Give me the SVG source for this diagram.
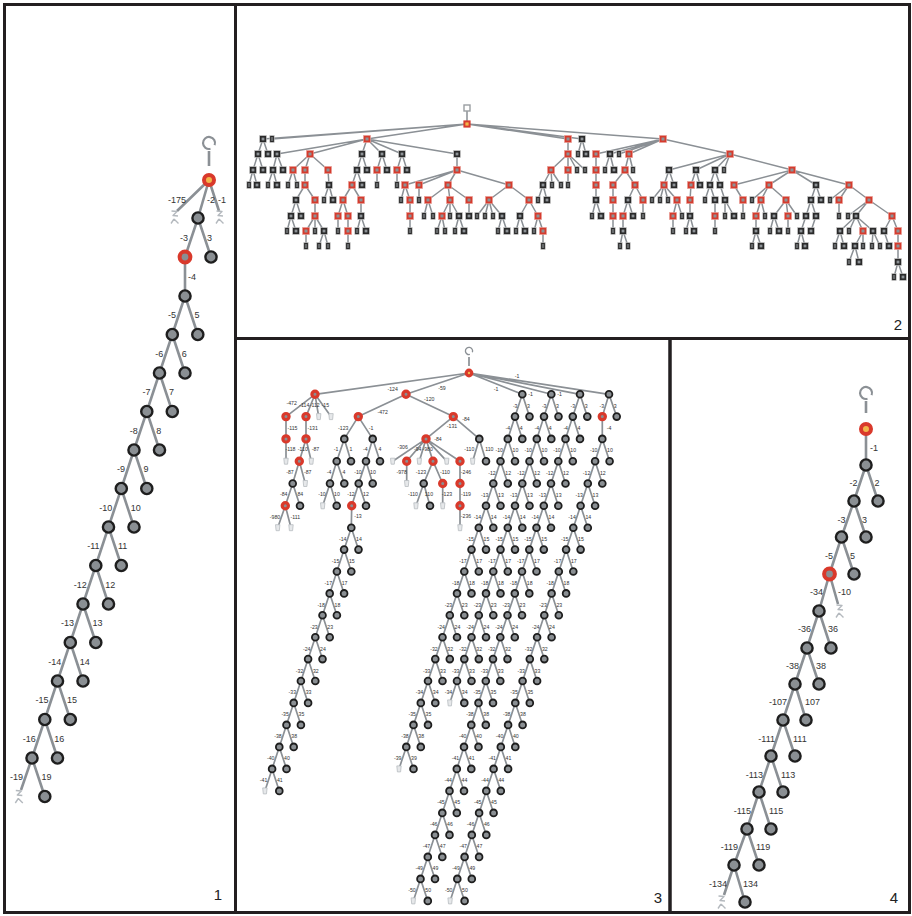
<svg xmlns="http://www.w3.org/2000/svg" width="912" height="916" viewBox="0 0 912 916">
<style>
.f{fill:none;stroke:#231f20;stroke-width:3}
.e1{fill:none;stroke:#8b9095;stroke-width:2.6}
.e2{fill:none;stroke:#8b9095;stroke-width:1.5}
.e3{fill:none;stroke:#8b9095;stroke-width:1.7}
text{font-family:"Liberation Sans",Arial,sans-serif;fill:#333}
.t1{font-size:9px}
.t3{font-size:5.2px}
.n{font-size:15px;fill:#222}
.r{text-anchor:end}
.m{text-anchor:middle}
</style>
<defs>
<circle id="cN" r="5.6" fill="#8a8f93" stroke="#1e1e1e" stroke-width="2.4"/>
<circle id="cR" r="5.4" fill="#8a8f93" stroke="#d9392b" stroke-width="4"/>
<circle id="cO" r="5" fill="#f2b64a" stroke="#d9392b" stroke-width="4"/>
<circle id="sN" r="3.4" fill="#8a8f93" stroke="#1e1e1e" stroke-width="1.8"/>
<circle id="sR" r="3.1" fill="#8a8f93" stroke="#d9392b" stroke-width="3.2"/>
<circle id="sO" r="2.8" fill="#f2b64a" stroke="#d9392b" stroke-width="3.2"/>
<path id="loop" d="M1.5,5.8 A6,6 0 1 1 5.6,2.2" fill="none" stroke="#8b9095" stroke-width="2.2"/>
<g id="ic1" fill="none" stroke="#b4b9be" stroke-width="1.4" stroke-linejoin="round"><path d="M-3.5,-6 L2,-5.5 L-2,-1.5 L3,-1 M-1,2 L3.5,6.5 M-4,6.5 L-1,2"/></g>
<path id="ic3" d="M-2.2,-3 L2.2,-3 L1.6,3 L-1.6,3 Z" fill="#e6e8ea" stroke="#b8bcc0" stroke-width="0.8"/>
<g id="qB"><rect x="-3.4" y="-3.4" width="6.8" height="6.8" fill="#2a2a2a" stroke="#c9c9c9" stroke-width="0.6"/><rect x="-1.4" y="-1.4" width="2.8" height="2.8" fill="#8d9296"/></g>
<g id="qR"><rect x="-3.6" y="-3.6" width="7.2" height="7.2" fill="#d63b2d" stroke="#eaa9a2" stroke-width="0.6"/><rect x="-1.5" y="-1.5" width="3" height="3" fill="#8d9296"/></g>
<g id="qL"><rect x="-2.2" y="-3.4" width="4.4" height="6.8" fill="#2a2a2a" stroke="#c9c9c9" stroke-width="0.6"/><rect x="-0.6" y="-2" width="1.2" height="4" fill="#8d9296"/></g>
<g id="qO"><rect x="-3.6" y="-3.6" width="7.2" height="7.2" fill="#d63b2d"/><rect x="-1.6" y="-1.6" width="3.2" height="3.2" fill="#f2b64a"/></g>
<rect id="qT" x="-3" y="-3" width="6" height="6" fill="#fff" stroke="#9a9ea2" stroke-width="1.4"/>
</defs>
<rect width="912" height="916" fill="#fff"/>
<g id="frames">
<rect class="f" x="4.5" y="4.5" width="231" height="908"/>
<rect class="f" x="235.5" y="4.5" width="674" height="334"/>
<rect class="f" x="235.5" y="338.5" width="434.5" height="574"/>
<rect class="f" x="670" y="338.5" width="239.5" height="574"/>
<text class="n m" x="218" y="900">1</text>
<text class="n m" x="898" y="330">2</text>
<text class="n m" x="658" y="903">3</text>
<text class="n m" x="894" y="903">4</text>
</g>

<!-- PANEL 1 -->
<g id="p1-connectors">
<path class="e1" d="M209,151V166 M209,180L177,211 M209,180L198,218 M209,180L219,211 M198,218L185,257 M198,218L211,257 M185,257L185,296 M185,296L172.3,334.5L159.5,373L146.8,411.5L134,450L121.3,488.5L108.5,527L95.8,565.5L83,604L70.3,642.5L57.5,681L44.8,719.5L32,758L21,790 M185,296L197.8,334.5 M172.3,334.5L185,373 M159.5,373L172.3,411.5 M146.8,411.5L159.5,450 M134,450L146.8,488.5 M121.3,488.5L134,527 M108.5,527L121.3,565.5 M95.8,565.5L108.5,604 M83,604L95.8,642.5 M70.3,642.5L83,681 M57.5,681L70.3,719.5 M44.8,719.5L57.5,758 M32,758L44.8,796.5"/>
</g>
<g id="p1-nodes">
<g id="p1-start"><use href="#loop" x="209" y="143"/></g>
<g id="p1-root"><use href="#cO" x="209" y="180"/></g>
<g id="p1-x175"><use href="#ic1" x="175" y="217"/></g>
<g id="p1-x1"><use href="#ic1" x="220" y="217"/></g>
<g id="p1-n2"><use href="#cN" x="198" y="218"/></g>
<g id="p1-n3a"><use href="#cR" x="185" y="257"/></g>
<g id="p1-n3b"><use href="#cN" x="211" y="257"/></g>
<g id="p1-n4"><use href="#cN" x="185" y="296"/></g>
<g id="p1-n5a"><use href="#cN" x="172.3" y="334.5"/></g><g id="p1-n5b"><use href="#cN" x="197.8" y="334.5"/></g>
<g id="p1-n6a"><use href="#cN" x="159.5" y="373"/></g><g id="p1-n6b"><use href="#cN" x="185" y="373"/></g>
<g id="p1-n7a"><use href="#cN" x="146.8" y="411.5"/></g><g id="p1-n7b"><use href="#cN" x="172.3" y="411.5"/></g>
<g id="p1-n8a"><use href="#cN" x="134" y="450"/></g><g id="p1-n8b"><use href="#cN" x="159.5" y="450"/></g>
<g id="p1-n9a"><use href="#cN" x="121.3" y="488.5"/></g><g id="p1-n9b"><use href="#cN" x="146.8" y="488.5"/></g>
<g id="p1-n10a"><use href="#cN" x="108.5" y="527"/></g><g id="p1-n10b"><use href="#cN" x="134" y="527"/></g>
<g id="p1-n11a"><use href="#cN" x="95.8" y="565.5"/></g><g id="p1-n11b"><use href="#cN" x="121.3" y="565.5"/></g>
<g id="p1-n12a"><use href="#cN" x="83" y="604"/></g><g id="p1-n12b"><use href="#cN" x="108.5" y="604"/></g>
<g id="p1-n13a"><use href="#cN" x="70.3" y="642.5"/></g><g id="p1-n13b"><use href="#cN" x="95.8" y="642.5"/></g>
<g id="p1-n14a"><use href="#cN" x="57.5" y="681"/></g><g id="p1-n14b"><use href="#cN" x="83" y="681"/></g>
<g id="p1-n15a"><use href="#cN" x="44.8" y="719.5"/></g><g id="p1-n15b"><use href="#cN" x="70.3" y="719.5"/></g>
<g id="p1-n16a"><use href="#cN" x="32" y="758"/></g><g id="p1-n16b"><use href="#cN" x="57.5" y="758"/></g>
<g id="p1-x19"><use href="#ic1" x="19.3" y="796.5"/></g><g id="p1-n19b"><use href="#cN" x="44.8" y="796.5"/></g>
</g>
<g id="p1-labels" class="t1">
<text class="r" x="186" y="203">-175</text><text x="207" y="203">-2</text><text x="218" y="203">-1</text>
<text class="r" x="188" y="241">-3</text><text x="207" y="241">3</text><text x="188" y="280">-4</text>
<g class="r"><text x="176" y="318">-5</text><text x="163.3" y="356.5">-6</text><text x="150.5" y="395">-7</text><text x="137.8" y="433.5">-8</text><text x="125" y="472">-9</text><text x="112.3" y="510.5">-10</text><text x="99.5" y="549">-11</text><text x="86.8" y="587.5">-12</text><text x="74" y="626">-13</text><text x="61.3" y="664.5">-14</text><text x="48.5" y="703">-15</text><text x="35.8" y="741.5">-16</text><text x="23" y="780">-19</text></g>
<text x="194.5" y="318">5</text><text x="181.8" y="356.5">6</text><text x="169" y="395">7</text><text x="156.3" y="433.5">8</text><text x="143.5" y="472">9</text><text x="130.8" y="510.5">10</text><text x="118" y="549">11</text><text x="105.3" y="587.5">12</text><text x="92.5" y="626">13</text><text x="79.8" y="664.5">14</text><text x="67" y="703">15</text><text x="54.3" y="741.5">16</text><text x="41.5" y="780">19</text>
</g>

<!-- PANEL 4 -->
<g id="p4-connectors">
<path class="e1" d="M866,401V413 M866,429V465 M866,465L854,501 M866,465L878,501 M854,501L841.5,537 M854,501L866,537 M841.5,537L829.5,574 M841.5,537L854,574 M829.5,574L819,611 M829.5,574L838,604 M819,611L807,648L795,684L783,720L771,756L759,792L747,829L734,865L724,895 M819,611L831,648 M807,648L819,684 M795,684L806,720 M783,720L795,756 M771,756L783,792 M759,792L771,829 M747,829L759,865 M734,865L745,902"/>
</g>
<g id="p4-nodes">
<g id="p4-start"><use href="#loop" x="866" y="393"/></g>
<g id="p4-root"><use href="#cO" x="866" y="429"/></g>
<g id="p4-n1"><use href="#cN" x="866" y="465"/></g>
<g id="p4-n2a"><use href="#cN" x="854" y="501"/></g><g id="p4-n2b"><use href="#cN" x="878" y="501"/></g>
<g id="p4-n3a"><use href="#cN" x="841.5" y="537"/></g><g id="p4-n3b"><use href="#cN" x="866" y="537"/></g>
<g id="p4-n5a"><use href="#cR" x="829.5" y="574"/></g><g id="p4-n5b"><use href="#cN" x="854" y="574"/></g>
<g id="p4-n34"><use href="#cN" x="819" y="611"/></g><g id="p4-x10"><use href="#ic1" x="840" y="611"/></g>
<g id="p4-n36a"><use href="#cN" x="807" y="648"/></g><g id="p4-n36b"><use href="#cN" x="831" y="648"/></g>
<g id="p4-n38a"><use href="#cN" x="795" y="684"/></g><g id="p4-n38b"><use href="#cN" x="819" y="684"/></g>
<g id="p4-n107a"><use href="#cN" x="783" y="720"/></g><g id="p4-n107b"><use href="#cN" x="806" y="720"/></g>
<g id="p4-n111a"><use href="#cN" x="771" y="756"/></g><g id="p4-n111b"><use href="#cN" x="795" y="756"/></g>
<g id="p4-n113a"><use href="#cN" x="759" y="792"/></g><g id="p4-n113b"><use href="#cN" x="783" y="792"/></g>
<g id="p4-n115a"><use href="#cN" x="747" y="829"/></g><g id="p4-n115b"><use href="#cN" x="771" y="829"/></g>
<g id="p4-n119a"><use href="#cN" x="734" y="865"/></g><g id="p4-n119b"><use href="#cN" x="759" y="865"/></g>
<g id="p4-x134"><use href="#ic1" x="722" y="902"/></g><g id="p4-n134b"><use href="#cN" x="745" y="902"/></g>
</g>
<g id="p4-labels" class="t1">
<text x="870" y="451">-1</text>
<g class="r"><text x="857.5" y="486">-2</text><text x="845.5" y="523">-3</text><text x="833" y="559">-5</text><text x="823" y="595">-34</text><text x="811" y="632">-36</text><text x="799" y="669">-38</text><text x="787" y="705">-107</text><text x="775" y="742">-111</text><text x="763" y="778">-113</text><text x="751" y="814">-115</text><text x="738" y="850">-119</text><text x="727" y="887">-134</text></g>
<text x="874.5" y="486">2</text><text x="862" y="523">3</text><text x="850" y="559">5</text><text x="838" y="595">-10</text><text x="828" y="632">36</text><text x="816" y="669">38</text><text x="805" y="705">107</text><text x="793" y="742">111</text><text x="781" y="778">113</text><text x="769" y="814">115</text><text x="756" y="850">119</text><text x="743" y="887">134</text>
</g>

<!-- PANEL 2 -->
<g id="p2-connectors">
<path class="e2" d="M467,111V124 M467,124L263,139 M467,124L272,139 M467,124L367,139 M467,124L568,139 M467,124L582,139 M467,124L663,139 M263,139L258,154 M263,139L268,154 M367,139L277,154 M367,139L310,154 M367,139L362,154 M367,139L382,154 M367,139L402,154 M367,139L457,154 M568,139L568,154 M582,139L578,154 M582,139L586,154 M663,139L596,154 M663,139L610,154 M663,139L619,154 M663,139L629,154 M663,139L730,154 M258,154L253,170 M258,154L263,170 M277,154L273,170 M277,154L283,170 M310,154L293,170 M310,154L305,170 M310,154L328,170 M362,154L357,170 M362,154L367,170 M382,154L377,170 M382,154L387,170 M402,154L397,170 M402,154L407,170 M457,154L457,170 M568,154L551,170 M568,154L568,170 M568,154L577,170 M568,154L585,170 M596,154L596,170 M610,154L605,170 M610,154L614,170 M629,154L625,170 M629,154L633,170 M730,154L669,170 M730,154L696,170 M730,154L715,170 M730,154L724,170 M730,154L792,170 M253,170L249,185 M253,170L257,185 M273,170L268,185 M273,170L277,185 M293,170L288,185 M293,170L297,185 M305,170L305,185 M328,170L329,185 M357,170L352,185 M357,170L362,185 M377,170L377,185 M397,170L397,185 M457,170L405,185 M457,170L419,185 M457,170L448,185 M457,170L509,185 M551,170L543,185 M551,170L552,185 M551,170L561,185 M568,170L568,185 M596,170L596,185 M625,170L613,185 M625,170L635,185 M669,170L664,185 M669,170L674,185 M696,170L691,185 M696,170L700,185 M715,170L710,185 M715,170L720,185 M792,170L734,185 M792,170L769,185 M792,170L816,185 M792,170L849,185 M305,185L296,200 M305,185L315,200 M329,185L324,200 M329,185L333,200 M352,185L343,200 M352,185L361,200 M405,185L401,200 M405,185L410,200 M419,185L419,200 M448,185L428,200 M448,185L450,200 M448,185L469,200 M509,185L489,200 M509,185L529,200 M543,185L538,200 M543,185L547,200 M596,185L596,200 M613,185L613,200 M635,185L628,200 M635,185L643,200 M664,185L652,200 M664,185L660,200 M664,185L668,200 M664,185L677,200 M691,185L690,200 M710,185L705,200 M710,185L715,200 M720,185L725,200 M734,185L743,200 M769,185L752,200 M769,185L761,200 M769,185L786,200 M816,185L811,200 M816,185L821,200 M849,185L830,200 M849,185L839,200 M849,185L869,200 M296,200L291,216 M296,200L301,216 M315,200L315,216 M343,200L338,216 M343,200L348,216 M361,200L361,216 M410,200L410,216 M428,200L424,216 M428,200L433,216 M450,200L442,216 M450,200L450,216 M450,200L459,216 M469,200L469,216 M489,200L477,216 M489,200L485,216 M489,200L493,216 M489,200L502,216 M529,200L520,216 M529,200L538,216 M596,200L592,216 M596,200L601,216 M613,200L613,216 M628,200L623,216 M628,200L633,216 M643,200L643,216 M677,200L673,216 M677,200L682,216 M690,200L690,216 M715,200L715,216 M725,200L725,216 M725,200L734,216 M743,200L743,216 M761,200L756,216 M761,200L765,216 M786,200L774,216 M786,200L788,216 M786,200L797,216 M811,200L806,216 M811,200L816,216 M839,200L839,216 M869,200L848,216 M869,200L856,216 M869,200L892,216 M291,216L287,231 M291,216L296,231 M315,216L306,231 M315,216L315,231 M315,216L324,231 M338,216L338,231 M348,216L348,231 M361,216L357,231 M361,216L366,231 M410,216L410,231 M442,216L437,231 M442,216L445,231 M459,216L455,231 M459,216L464,231 M502,216L498,231 M502,216L507,231 M520,216L516,231 M520,216L525,231 M538,216L534,231 M538,216L543,231 M613,216L613,231 M623,216L623,231 M673,216L673,231 M690,216L686,231 M690,216L694,231 M715,216L715,231 M756,216L756,231 M774,216L770,231 M774,216L779,231 M788,216L788,231 M806,216L801,231 M816,216L811,231 M856,216L840,231 M856,216L849,231 M856,216L863,231 M856,216L873,231 M892,216L884,231 M892,216L898,231 M306,231L306,246 M324,231L319,246 M324,231L328,246 M348,231L348,246 M543,231L543,246 M623,231L620,246 M623,231L628,246 M756,231L752,246 M756,231L761,246 M801,231L797,246 M801,231L805,246 M840,231L835,246 M840,231L844,246 M863,231L855,246 M863,231L863,246 M873,231L872,246 M873,231L880,246 M884,231L889,246 M898,231L898,246 M855,246L849,262 M855,246L859,262 M898,246L898,262 M898,262L894,277 M898,262L903,277"/>
</g>
<g id="p2-nodes">
<use id="p2-top" href="#qT" x="467" y="108"/>
<use id="p2-root" href="#qO" x="467" y="124"/>
<use id="p2-a1" href="#qB" x="263" y="139"/><use id="p2-a2" href="#qL" x="272" y="139"/><use id="p2-a3" href="#qR" x="367" y="139"/><use id="p2-a4" href="#qR" x="568" y="139"/><use id="p2-a5" href="#qB" x="582" y="139"/><use id="p2-a6" href="#qR" x="663" y="139"/>
<use id="p2-b1" href="#qB" x="258" y="154"/><use id="p2-b2" href="#qB" x="268" y="154"/><use id="p2-b3" href="#qB" x="277" y="154"/><use id="p2-b4" href="#qR" x="310" y="154"/><use id="p2-b5" href="#qB" x="362" y="154"/><use id="p2-b6" href="#qB" x="382" y="154"/><use id="p2-b7" href="#qB" x="402" y="154"/><use id="p2-b8" href="#qB" x="457" y="154"/><use id="p2-b9" href="#qR" x="568" y="154"/><use id="p2-b10" href="#qL" x="578" y="154"/><use id="p2-b11" href="#qB" x="586" y="154"/><use id="p2-b12" href="#qR" x="596" y="154"/><use id="p2-b13" href="#qB" x="610" y="154"/><use id="p2-b14" href="#qL" x="619" y="154"/><use id="p2-b15" href="#qR" x="629" y="154"/><use id="p2-b16" href="#qR" x="730" y="154"/>
<use id="p2-c1" href="#qB" x="253" y="170"/><use id="p2-c2" href="#qB" x="263" y="170"/><use id="p2-c3" href="#qB" x="273" y="170"/><use id="p2-c4" href="#qB" x="283" y="170"/><use id="p2-c5" href="#qR" x="293" y="170"/><use id="p2-c6" href="#qR" x="305" y="170"/><use id="p2-c7" href="#qR" x="328" y="170"/><use id="p2-c8" href="#qB" x="357" y="170"/><use id="p2-c9" href="#qB" x="367" y="170"/><use id="p2-c10" href="#qR" x="377" y="170"/><use id="p2-c11" href="#qB" x="387" y="170"/><use id="p2-c12" href="#qR" x="397" y="170"/><use id="p2-c13" href="#qB" x="407" y="170"/><use id="p2-c14" href="#qR" x="457" y="170"/><use id="p2-c15" href="#qR" x="551" y="170"/><use id="p2-c16" href="#qR" x="568" y="170"/><use id="p2-c17" href="#qL" x="577" y="170"/><use id="p2-c18" href="#qL" x="585" y="170"/><use id="p2-c19" href="#qR" x="596" y="170"/><use id="p2-c20" href="#qL" x="605" y="170"/><use id="p2-c21" href="#qB" x="614" y="170"/><use id="p2-c22" href="#qR" x="625" y="170"/><use id="p2-c23" href="#qL" x="633" y="170"/><use id="p2-c24" href="#qB" x="669" y="170"/><use id="p2-c25" href="#qB" x="696" y="170"/><use id="p2-c26" href="#qB" x="715" y="170"/><use id="p2-c27" href="#qL" x="724" y="170"/><use id="p2-c28" href="#qR" x="792" y="170"/>
<use id="p2-d1" href="#qL" x="249" y="185"/><use id="p2-d2" href="#qB" x="257" y="185"/><use id="p2-d3" href="#qL" x="268" y="185"/><use id="p2-d4" href="#qB" x="277" y="185"/><use id="p2-d5" href="#qL" x="288" y="185"/><use id="p2-d6" href="#qL" x="297" y="185"/><use id="p2-d7" href="#qR" x="305" y="185"/><use id="p2-d8" href="#qB" x="329" y="185"/><use id="p2-d9" href="#qR" x="352" y="185"/><use id="p2-d10" href="#qB" x="362" y="185"/><use id="p2-d11" href="#qL" x="377" y="185"/><use id="p2-d12" href="#qL" x="397" y="185"/><use id="p2-d13" href="#qR" x="405" y="185"/><use id="p2-d14" href="#qR" x="419" y="185"/><use id="p2-d15" href="#qR" x="448" y="185"/><use id="p2-d16" href="#qR" x="509" y="185"/><use id="p2-d17" href="#qB" x="543" y="185"/><use id="p2-d18" href="#qL" x="552" y="185"/><use id="p2-d19" href="#qL" x="561" y="185"/><use id="p2-d20" href="#qL" x="568" y="185"/><use id="p2-d21" href="#qR" x="596" y="185"/><use id="p2-d22" href="#qR" x="613" y="185"/><use id="p2-d23" href="#qR" x="635" y="185"/><use id="p2-d24" href="#qR" x="664" y="185"/><use id="p2-d25" href="#qB" x="674" y="185"/><use id="p2-d26" href="#qR" x="691" y="185"/><use id="p2-d26b" href="#qB" x="700" y="185"/><use id="p2-d27" href="#qB" x="710" y="185"/><use id="p2-d28" href="#qB" x="720" y="185"/><use id="p2-d29" href="#qR" x="734" y="185"/><use id="p2-d30" href="#qR" x="769" y="185"/><use id="p2-d31" href="#qB" x="816" y="185"/><use id="p2-d32" href="#qR" x="849" y="185"/>
<use id="p2-e1" href="#qB" x="296" y="200"/><use id="p2-e2" href="#qR" x="315" y="200"/><use id="p2-e3" href="#qL" x="324" y="200"/><use id="p2-e4" href="#qB" x="333" y="200"/><use id="p2-e5" href="#qR" x="343" y="200"/><use id="p2-e6" href="#qR" x="361" y="200"/><use id="p2-e7" href="#qL" x="401" y="200"/><use id="p2-e8" href="#qR" x="410" y="200"/><use id="p2-e9" href="#qL" x="419" y="200"/><use id="p2-e10" href="#qR" x="428" y="200"/><use id="p2-e11" href="#qR" x="450" y="200"/><use id="p2-e12" href="#qR" x="469" y="200"/><use id="p2-e13" href="#qR" x="489" y="200"/><use id="p2-e14" href="#qR" x="529" y="200"/><use id="p2-e15" href="#qL" x="538" y="200"/><use id="p2-e16" href="#qB" x="547" y="200"/><use id="p2-e17" href="#qB" x="596" y="200"/><use id="p2-e18" href="#qR" x="613" y="200"/><use id="p2-e19" href="#qB" x="628" y="200"/><use id="p2-e20" href="#qR" x="643" y="200"/><use id="p2-e21" href="#qL" x="652" y="200"/><use id="p2-e22" href="#qL" x="660" y="200"/><use id="p2-e23" href="#qL" x="668" y="200"/><use id="p2-e24" href="#qR" x="677" y="200"/><use id="p2-e25" href="#qR" x="690" y="200"/><use id="p2-e26" href="#qL" x="705" y="200"/><use id="p2-e27" href="#qB" x="715" y="200"/><use id="p2-e28" href="#qB" x="725" y="200"/><use id="p2-e29" href="#qR" x="743" y="200"/><use id="p2-e30" href="#qL" x="752" y="200"/><use id="p2-e31" href="#qR" x="761" y="200"/><use id="p2-e32" href="#qR" x="786" y="200"/><use id="p2-e33" href="#qB" x="811" y="200"/><use id="p2-e34" href="#qB" x="821" y="200"/><use id="p2-e35" href="#qL" x="830" y="200"/><use id="p2-e36" href="#qR" x="839" y="200"/><use id="p2-e37" href="#qR" x="869" y="200"/>
<use id="p2-f1" href="#qB" x="291" y="216"/><use id="p2-f2" href="#qB" x="301" y="216"/><use id="p2-f3" href="#qR" x="315" y="216"/><use id="p2-f4" href="#qR" x="338" y="216"/><use id="p2-f5" href="#qR" x="348" y="216"/><use id="p2-f6" href="#qB" x="361" y="216"/><use id="p2-f7" href="#qR" x="410" y="216"/><use id="p2-f8" href="#qL" x="424" y="216"/><use id="p2-f9" href="#qL" x="433" y="216"/><use id="p2-f10" href="#qR" x="442" y="216"/><use id="p2-f11" href="#qL" x="450" y="216"/><use id="p2-f12" href="#qB" x="459" y="216"/><use id="p2-f13" href="#qB" x="469" y="216"/><use id="p2-f14" href="#qL" x="477" y="216"/><use id="p2-f15" href="#qL" x="485" y="216"/><use id="p2-f16" href="#qL" x="493" y="216"/><use id="p2-f17" href="#qB" x="502" y="216"/><use id="p2-f18" href="#qB" x="520" y="216"/><use id="p2-f19" href="#qR" x="538" y="216"/><use id="p2-f20" href="#qL" x="592" y="216"/><use id="p2-f21" href="#qB" x="601" y="216"/><use id="p2-f22" href="#qR" x="613" y="216"/><use id="p2-f23" href="#qR" x="623" y="216"/><use id="p2-f24" href="#qB" x="633" y="216"/><use id="p2-f25" href="#qL" x="643" y="216"/><use id="p2-f26" href="#qR" x="673" y="216"/><use id="p2-f27" href="#qL" x="682" y="216"/><use id="p2-f28" href="#qB" x="690" y="216"/><use id="p2-f29" href="#qR" x="715" y="216"/><use id="p2-f30" href="#qL" x="725" y="216"/><use id="p2-f31" href="#qB" x="734" y="216"/><use id="p2-f32" href="#qL" x="743" y="216"/><use id="p2-f33" href="#qR" x="756" y="216"/><use id="p2-f34" href="#qL" x="765" y="216"/><use id="p2-f35" href="#qB" x="774" y="216"/><use id="p2-f36" href="#qR" x="788" y="216"/><use id="p2-f37" href="#qL" x="797" y="216"/><use id="p2-f38" href="#qB" x="806" y="216"/><use id="p2-f39" href="#qB" x="816" y="216"/><use id="p2-f40" href="#qL" x="839" y="216"/><use id="p2-f41" href="#qL" x="848" y="216"/><use id="p2-f42" href="#qB" x="856" y="216"/><use id="p2-f43" href="#qR" x="892" y="216"/>
<use id="p2-g1" href="#qL" x="287" y="231"/><use id="p2-g2" href="#qB" x="296" y="231"/><use id="p2-g3" href="#qR" x="306" y="231"/><use id="p2-g4" href="#qL" x="315" y="231"/><use id="p2-g5" href="#qB" x="324" y="231"/><use id="p2-g6" href="#qL" x="338" y="231"/><use id="p2-g7" href="#qR" x="348" y="231"/><use id="p2-g8" href="#qL" x="357" y="231"/><use id="p2-g9" href="#qB" x="366" y="231"/><use id="p2-g10" href="#qL" x="410" y="231"/><use id="p2-g11" href="#qL" x="437" y="231"/><use id="p2-g12" href="#qL" x="445" y="231"/><use id="p2-g13" href="#qL" x="455" y="231"/><use id="p2-g14" href="#qB" x="464" y="231"/><use id="p2-g16" href="#qL" x="498" y="231"/><use id="p2-g17" href="#qB" x="507" y="231"/><use id="p2-g18" href="#qL" x="516" y="231"/><use id="p2-g19" href="#qB" x="525" y="231"/><use id="p2-g20" href="#qL" x="534" y="231"/><use id="p2-g21" href="#qR" x="543" y="231"/><use id="p2-g22" href="#qL" x="613" y="231"/><use id="p2-g23" href="#qB" x="623" y="231"/><use id="p2-g24" href="#qL" x="673" y="231"/><use id="p2-g25" href="#qL" x="686" y="231"/><use id="p2-g26" href="#qB" x="694" y="231"/><use id="p2-g27" href="#qL" x="715" y="231"/><use id="p2-g28" href="#qB" x="756" y="231"/><use id="p2-g29" href="#qL" x="770" y="231"/><use id="p2-g30" href="#qB" x="779" y="231"/><use id="p2-g31" href="#qL" x="788" y="231"/><use id="p2-g32" href="#qB" x="801" y="231"/><use id="p2-g33" href="#qB" x="811" y="231"/><use id="p2-g34" href="#qB" x="840" y="231"/><use id="p2-g35" href="#qL" x="849" y="231"/><use id="p2-g36" href="#qR" x="863" y="231"/><use id="p2-g37" href="#qB" x="873" y="231"/><use id="p2-g38" href="#qB" x="884" y="231"/><use id="p2-g39" href="#qR" x="898" y="231"/>
<use id="p2-h1" href="#qL" x="306" y="246"/><use id="p2-h2" href="#qL" x="319" y="246"/><use id="p2-h3" href="#qL" x="328" y="246"/><use id="p2-h4" href="#qL" x="348" y="246"/><use id="p2-h5" href="#qL" x="543" y="246"/><use id="p2-h6" href="#qL" x="620" y="246"/><use id="p2-h7" href="#qL" x="628" y="246"/><use id="p2-h8" href="#qL" x="752" y="246"/><use id="p2-h9" href="#qB" x="761" y="246"/><use id="p2-h10" href="#qL" x="797" y="246"/><use id="p2-h11" href="#qB" x="805" y="246"/><use id="p2-h12" href="#qL" x="835" y="246"/><use id="p2-h13" href="#qB" x="844" y="246"/><use id="p2-h14" href="#qB" x="855" y="246"/><use id="p2-h15" href="#qL" x="863" y="246"/><use id="p2-h16" href="#qL" x="872" y="246"/><use id="p2-h17" href="#qL" x="880" y="246"/><use id="p2-h18" href="#qB" x="889" y="246"/><use id="p2-h19" href="#qR" x="898" y="246"/>
<use id="p2-i1" href="#qL" x="849" y="262"/><use id="p2-i2" href="#qB" x="859" y="262"/><use id="p2-i3" href="#qB" x="898" y="262"/>
<use id="p2-j1" href="#qL" x="894" y="277"/><use id="p2-j2" href="#qB" x="903" y="277"/>
</g>

<!-- PANEL 3 -->
<g id="p3-connectors">
<path class="e3" d="M469,357V366 M469,373L315,394.3 M469,373L406,394.3 M469,373L522.3,394.3 M469,373L551.3,394.3 M469,373L580,394.3 M469,373L609,394.3 M315,394.3L286,416.6 M315,394.3L306,416.6 M315,394.3L318.7,416.6 M315,394.3L331,416.6 M286,416.6L286,461.2 M306,416.6L306,438.9 M306,438.9L299.3,461.2 M306,438.9L311.3,461.2 M299.3,461.2L292.7,483.5 M299.3,461.2L305.3,483.5 M292.7,483.5L285.3,505.8 M292.7,483.5L300,505.8 M285.3,505.8L277.7,527.7 M285.3,505.8L291,527.7 M406,394.3L358.3,416.6 M406,394.3L453.3,416.6 M358.3,416.6L344.3,438.9 M358.3,416.6L372.7,438.9 M344.3,438.9L336.7,461.2 M344.3,438.9L351,461.2 M372.7,438.9L366,461.2 M372.7,438.9L380,461.2 M336.7,461.2L330,483.5 M336.7,461.2L344.3,483.5 M366,461.2L358.7,483.5 M366,461.2L372.7,483.5 M330,483.5L322.7,505.8 M330,483.5L336.7,505.8 M358.7,483.5L351.7,505.8 M358.7,483.5L366,505.8 M351.7,505.8L351.3,527.7 M453.3,416.6L426,438.9 M453.3,416.6L479.3,438.9 M426,438.9L392.7,461.2 M426,438.9L406.7,461.2 M426,438.9L419.3,461.2 M426,438.9L433,461.2 M426,438.9L446.7,461.2 M426,438.9L460,461.2 M406.7,461.2L406.7,483.5 M433,461.2L423.7,483.5 M433,461.2L442.7,483.5 M460,461.2L460,527.7 M479.3,438.9L472.7,461.2 M479.3,438.9L486,461.2 M423.7,483.5L416,505.8 M423.7,483.5L430,505.8 M442.7,483.5L442.7,505.8
M351.3,527.7L344.1,549.6L336.9,571.5L329.7,593.4L322.5,615.3L315.3,637.2L308.1,659.1L300.9,681L293.7,702.9L286.5,724.9L279.3,746.9L272.1,768.9L264.9,790.9 M351.3,527.7L358.5,549.6 M344.1,549.6L351.3,571.5 M336.9,571.5L344.1,593.4 M329.7,593.4L336.9,615.3 M322.5,615.3L329.7,637.2 M315.3,637.2L322.5,659.1 M308.1,659.1L315.3,681 M300.9,681L308.1,702.9 M293.7,702.9L300.9,724.9 M286.5,724.9L293.7,746.9 M279.3,746.9L286.5,768.9 M272.1,768.9L279.3,790.9
M522.3,394.3L515,416.6L507.8,438.9L500.5,461.2L493.3,483.5L486,505.8L478.8,527.7L471.5,549.6L464.3,571.5L457,593.4L449.8,615.3L442.5,637.2L435.3,659.1L428,681L420.8,702.9L413.5,724.9L406.3,746.9L399,768.9 M522.3,394.3L529.5,416.6 M515,416.6L522.3,438.9 M507.8,438.9L515,461.2 M500.5,461.2L507.8,483.5 M493.3,483.5L500.5,505.8 M486,505.8L493.3,527.7 M478.8,527.7L486,549.6 M471.5,549.6L478.8,571.5 M464.3,571.5L471.5,593.4 M457,593.4L464.3,615.3 M449.8,615.3L457,637.2 M442.5,637.2L449.8,659.1 M435.3,659.1L442.5,681 M428,681L435.3,702.9 M420.8,702.9L428,724.9 M413.5,724.9L420.8,746.9 M406.3,746.9L413.5,768.9
M551.3,394.3L544,416.6L536.8,438.9L529.5,461.2L522.3,483.5L515,505.8L507.8,527.7L500.5,549.6L493.3,571.5L486,593.4L478.8,615.3L471.5,637.2L464.3,659.1L457,681L449.8,702.9 M551.3,394.3L558.5,416.6 M544,416.6L551.3,438.9 M536.8,438.9L544,461.2 M529.5,461.2L536.8,483.5 M522.3,483.5L529.5,505.8 M515,505.8L522.3,527.7 M507.8,527.7L515,549.6 M500.5,549.6L507.8,571.5 M493.3,571.5L500.5,593.4 M486,593.4L493.3,615.3 M478.8,615.3L486,637.2 M471.5,637.2L478.8,659.1 M464.3,659.1L471.5,681 M457,681L464.3,702.9
M580,394.3L572.8,416.6L565.5,438.9L558.3,461.2L551,483.5L543.8,505.8L536.5,527.7L529.3,549.6L522,571.5L514.8,593.4L507.5,615.3L500.3,637.2L493,659.1L485.8,681L478.5,702.9L471.3,724.9L464,746.9L456.8,768.9L449.5,790.9L442.3,812.9L435,834.9L427.8,856.9L420.5,878.9L413.3,900.9 M580,394.3L587.3,416.6 M572.8,416.6L580,438.9 M565.5,438.9L572.8,461.2 M558.3,461.2L565.5,483.5 M551,483.5L558.3,505.8 M543.8,505.8L551,527.7 M536.5,527.7L543.8,549.6 M529.3,549.6L536.5,571.5 M522,571.5L529.3,593.4 M514.8,593.4L522,615.3 M507.5,615.3L514.8,637.2 M500.3,637.2L507.5,659.1 M493,659.1L500.3,681 M485.8,681L493,702.9 M478.5,702.9L485.8,724.9 M471.3,724.9L478.5,746.9 M464,746.9L471.3,768.9 M456.8,768.9L464,790.9 M449.5,790.9L456.8,812.9 M442.3,812.9L449.5,834.9 M435,834.9L442.3,856.9 M427.8,856.9L435,878.9 M420.5,878.9L427.8,900.9
M609,394.3L602.3,416.6L602.3,438.9L595.1,461.2L587.8,483.5L580.6,505.8L573.3,527.7L566.1,549.6L558.8,571.5L551.6,593.4L544.3,615.3L537.1,637.2L529.8,659.1L522.6,681L515.3,702.9L508.1,724.9L500.8,746.9L493.6,768.9L486.3,790.9L479.1,812.9L471.8,834.9L464.6,856.9L457.3,878.9L450.1,900.9 M609,394.3L616.7,416.6 M602.3,438.9L609.6,461.2 M595.1,461.2L602.3,483.5 M587.8,483.5L595.1,505.8 M580.6,505.8L587.8,527.7 M573.3,527.7L580.6,549.6 M566.1,549.6L573.3,571.5 M558.8,571.5L566.1,593.4 M551.6,593.4L558.8,615.3 M544.3,615.3L551.6,637.2 M537.1,637.2L544.3,659.1 M529.8,659.1L537.1,681 M522.6,681L529.8,702.9 M515.3,702.9L522.6,724.9 M508.1,724.9L515.3,746.9 M500.8,746.9L508.1,768.9 M493.6,768.9L500.8,790.9 M486.3,790.9L493.6,812.9 M479.1,812.9L486.3,834.9 M471.8,834.9L479.1,856.9 M464.6,856.9L471.8,878.9 M457.3,878.9L464.6,900.9"/>
</g>
<g id="p3-nodes">
<use id="p3-start" href="#loop" transform="translate(469,351) scale(0.6)"/>
<use id="p3-root" href="#sO" x="469" y="373"/>
<use id="p3-P1" href="#sR" x="315" y="394.3"/><use id="p3-P2" href="#sR" x="406" y="394.3"/>
<use id="p3-A1" href="#sR" x="286" y="416.6"/><use id="p3-A2" href="#sR" x="306" y="416.6"/><use id="p3-Ax1" href="#ic3" x="318.7" y="416.6"/><use id="p3-Ax2" href="#ic3" x="331" y="416.6"/>
<use id="p3-A3" href="#sR" x="286" y="438.9"/><use id="p3-A4" href="#sR" x="306" y="438.9"/>
<use id="p3-Ax3" href="#ic3" x="286" y="461.2"/><use id="p3-A5" href="#sR" x="299.3" y="461.2"/><use id="p3-Ax4" href="#ic3" x="311.3" y="461.2"/>
<use id="p3-A6" href="#sN" x="292.7" y="483.5"/><use id="p3-Ax5" href="#ic3" x="305.3" y="483.5"/>
<use id="p3-A7" href="#sR" x="285.3" y="505.8"/><use id="p3-A8" href="#sN" x="300" y="505.8"/>
<use id="p3-Ax6" href="#ic3" x="277.7" y="527.7"/><use id="p3-Ax7" href="#ic3" x="291" y="527.7"/>
<use id="p3-B1" href="#sR" x="358.3" y="416.6"/><use id="p3-C1" href="#sR" x="453.3" y="416.6"/>
<use id="p3-B2" href="#sN" x="344.3" y="438.9"/><use id="p3-B3" href="#sN" x="372.7" y="438.9"/><use id="p3-C2" href="#sR" x="426" y="438.9"/><use id="p3-C3" href="#sN" x="479.3" y="438.9"/>
<use id="p3-B4" href="#sN" x="336.7" y="461.2"/><use id="p3-B5" href="#sN" x="351" y="461.2"/><use id="p3-B6" href="#sN" x="366" y="461.2"/><use id="p3-B7" href="#sN" x="380" y="461.2"/>
<use id="p3-Cx1" href="#ic3" x="392.7" y="461.2"/><use id="p3-C4" href="#sR" x="406.7" y="461.2"/><use id="p3-Cx2" href="#ic3" x="419.3" y="461.2"/><use id="p3-C5" href="#sR" x="433" y="461.2"/><use id="p3-Cx3" href="#ic3" x="446.7" y="461.2"/><use id="p3-C6" href="#sR" x="460" y="461.2"/><use id="p3-Cx4" href="#ic3" x="472.7" y="461.2"/><use id="p3-C10" href="#sN" x="486" y="461.2"/>
<use id="p3-B8" href="#sN" x="330" y="483.5"/><use id="p3-B9" href="#sN" x="344.3" y="483.5"/><use id="p3-B10" href="#sN" x="358.7" y="483.5"/><use id="p3-B11" href="#sN" x="372.7" y="483.5"/><use id="p3-Cx5" href="#ic3" x="406.7" y="483.5"/><use id="p3-C7" href="#sN" x="423.7" y="483.5"/><use id="p3-C8" href="#sR" x="442.7" y="483.5"/><use id="p3-C9" href="#sR" x="460" y="483.5"/>
<use id="p3-Bx1" href="#ic3" x="322.7" y="505.8"/><use id="p3-B12" href="#sN" x="336.7" y="505.8"/><use id="p3-B13" href="#sR" x="351.7" y="505.8"/><use id="p3-B14" href="#sN" x="366" y="505.8"/><use id="p3-Cx6" href="#ic3" x="416" y="505.8"/><use id="p3-C11" href="#sN" x="430" y="505.8"/><use id="p3-Cx7" href="#ic3" x="442.7" y="505.8"/><use id="p3-C12" href="#sR" x="460" y="505.8"/>
<use id="p3-B15" href="#sN" x="351.3" y="527.7"/><use id="p3-Cx8" href="#ic3" x="460" y="527.7"/>
<use id="p3-L7a" href="#sN" x="344.1" y="549.6"/><use id="p3-L7b" href="#sN" x="358.5" y="549.6"/>
<use id="p3-L8a" href="#sN" x="336.9" y="571.5"/><use id="p3-L8b" href="#sN" x="351.3" y="571.5"/>
<use id="p3-L9a" href="#sN" x="329.7" y="593.4"/><use id="p3-L9b" href="#sN" x="344.1" y="593.4"/>
<use id="p3-L10a" href="#sN" x="322.5" y="615.3"/><use id="p3-L10b" href="#sN" x="336.9" y="615.3"/>
<use id="p3-L11a" href="#sN" x="315.3" y="637.2"/><use id="p3-L11b" href="#sN" x="329.7" y="637.2"/>
<use id="p3-L12a" href="#sN" x="308.1" y="659.1"/><use id="p3-L12b" href="#sN" x="322.5" y="659.1"/>
<use id="p3-L13a" href="#sN" x="300.9" y="681"/><use id="p3-L13b" href="#sN" x="315.3" y="681"/>
<use id="p3-L14a" href="#sN" x="293.7" y="702.9"/><use id="p3-L14b" href="#sN" x="308.1" y="702.9"/>
<use id="p3-L15a" href="#sN" x="286.5" y="724.9"/><use id="p3-L15b" href="#sN" x="300.9" y="724.9"/>
<use id="p3-L16a" href="#sN" x="279.3" y="746.9"/><use id="p3-L16b" href="#sN" x="293.7" y="746.9"/>
<use id="p3-L17a" href="#sN" x="272.1" y="768.9"/><use id="p3-L17b" href="#sN" x="286.5" y="768.9"/>
<use id="p3-L18a" href="#ic3" x="264.9" y="790.9"/><use id="p3-L18b" href="#sN" x="279.3" y="790.9"/>
<use id="p3-q1-0" href="#sN" x="522.3" y="394.3"/>
<use id="p3-q1-1a" href="#sN" x="515" y="416.6"/><use id="p3-q1-1b" href="#sN" x="529.5" y="416.6"/>
<use id="p3-q1-2a" href="#sN" x="507.8" y="438.9"/><use id="p3-q1-2b" href="#sN" x="522.3" y="438.9"/>
<use id="p3-q1-3a" href="#sN" x="500.5" y="461.2"/><use id="p3-q1-3b" href="#sN" x="515" y="461.2"/>
<use id="p3-q1-4a" href="#sN" x="493.3" y="483.5"/><use id="p3-q1-4b" href="#sN" x="507.8" y="483.5"/>
<use id="p3-q1-5a" href="#sN" x="486" y="505.8"/><use id="p3-q1-5b" href="#sN" x="500.5" y="505.8"/>
<use id="p3-q1-6a" href="#sN" x="478.8" y="527.7"/><use id="p3-q1-6b" href="#sN" x="493.3" y="527.7"/>
<use id="p3-q1-7a" href="#sN" x="471.5" y="549.6"/><use id="p3-q1-7b" href="#sN" x="486" y="549.6"/>
<use id="p3-q1-8a" href="#sN" x="464.3" y="571.5"/><use id="p3-q1-8b" href="#sN" x="478.8" y="571.5"/>
<use id="p3-q1-9a" href="#sN" x="457" y="593.4"/><use id="p3-q1-9b" href="#sN" x="471.5" y="593.4"/>
<use id="p3-q1-10a" href="#sN" x="449.8" y="615.3"/><use id="p3-q1-10b" href="#sN" x="464.3" y="615.3"/>
<use id="p3-q1-11a" href="#sN" x="442.5" y="637.2"/><use id="p3-q1-11b" href="#sN" x="457" y="637.2"/>
<use id="p3-q1-12a" href="#sN" x="435.3" y="659.1"/><use id="p3-q1-12b" href="#sN" x="449.8" y="659.1"/>
<use id="p3-q1-13a" href="#sN" x="428" y="681"/><use id="p3-q1-13b" href="#sN" x="442.5" y="681"/>
<use id="p3-q1-14a" href="#sN" x="420.8" y="702.9"/><use id="p3-q1-14b" href="#sN" x="435.3" y="702.9"/>
<use id="p3-q1-15a" href="#sN" x="413.5" y="724.9"/><use id="p3-q1-15b" href="#sN" x="428" y="724.9"/>
<use id="p3-q1-16a" href="#sN" x="406.3" y="746.9"/><use id="p3-q1-16b" href="#sN" x="420.8" y="746.9"/>
<use id="p3-q1-17a" href="#ic3" x="399" y="768.9"/><use id="p3-q1-17b" href="#sN" x="413.5" y="768.9"/>
<use id="p3-q2-0" href="#sN" x="551.3" y="394.3"/>
<use id="p3-q2-1a" href="#sN" x="544" y="416.6"/><use id="p3-q2-1b" href="#sN" x="558.5" y="416.6"/>
<use id="p3-q2-2a" href="#sN" x="536.8" y="438.9"/><use id="p3-q2-2b" href="#sN" x="551.3" y="438.9"/>
<use id="p3-q2-3a" href="#sN" x="529.5" y="461.2"/><use id="p3-q2-3b" href="#sN" x="544" y="461.2"/>
<use id="p3-q2-4a" href="#sN" x="522.3" y="483.5"/><use id="p3-q2-4b" href="#sN" x="536.8" y="483.5"/>
<use id="p3-q2-5a" href="#sN" x="515" y="505.8"/><use id="p3-q2-5b" href="#sN" x="529.5" y="505.8"/>
<use id="p3-q2-6a" href="#sN" x="507.8" y="527.7"/><use id="p3-q2-6b" href="#sN" x="522.3" y="527.7"/>
<use id="p3-q2-7a" href="#sN" x="500.5" y="549.6"/><use id="p3-q2-7b" href="#sN" x="515" y="549.6"/>
<use id="p3-q2-8a" href="#sN" x="493.3" y="571.5"/><use id="p3-q2-8b" href="#sN" x="507.8" y="571.5"/>
<use id="p3-q2-9a" href="#sN" x="486" y="593.4"/><use id="p3-q2-9b" href="#sN" x="500.5" y="593.4"/>
<use id="p3-q2-10a" href="#sN" x="478.8" y="615.3"/><use id="p3-q2-10b" href="#sN" x="493.3" y="615.3"/>
<use id="p3-q2-11a" href="#sN" x="471.5" y="637.2"/><use id="p3-q2-11b" href="#sN" x="486" y="637.2"/>
<use id="p3-q2-12a" href="#sN" x="464.3" y="659.1"/><use id="p3-q2-12b" href="#sN" x="478.8" y="659.1"/>
<use id="p3-q2-13a" href="#sN" x="457" y="681"/><use id="p3-q2-13b" href="#sN" x="471.5" y="681"/>
<use id="p3-q2-14a" href="#ic3" x="449.8" y="702.9"/><use id="p3-q2-14b" href="#sN" x="464.3" y="702.9"/>
<use id="p3-q3-0" href="#sN" x="580" y="394.3"/>
<use id="p3-q3-1a" href="#sN" x="572.8" y="416.6"/><use id="p3-q3-1b" href="#sN" x="587.3" y="416.6"/>
<use id="p3-q3-2a" href="#sN" x="565.5" y="438.9"/><use id="p3-q3-2b" href="#sN" x="580" y="438.9"/>
<use id="p3-q3-3a" href="#sN" x="558.3" y="461.2"/><use id="p3-q3-3b" href="#sN" x="572.8" y="461.2"/>
<use id="p3-q3-4a" href="#sN" x="551" y="483.5"/><use id="p3-q3-4b" href="#sN" x="565.5" y="483.5"/>
<use id="p3-q3-5a" href="#sN" x="543.8" y="505.8"/><use id="p3-q3-5b" href="#sN" x="558.3" y="505.8"/>
<use id="p3-q3-6a" href="#sN" x="536.5" y="527.7"/><use id="p3-q3-6b" href="#sN" x="551" y="527.7"/>
<use id="p3-q3-7a" href="#sN" x="529.3" y="549.6"/><use id="p3-q3-7b" href="#sN" x="543.8" y="549.6"/>
<use id="p3-q3-8a" href="#sN" x="522" y="571.5"/><use id="p3-q3-8b" href="#sN" x="536.5" y="571.5"/>
<use id="p3-q3-9a" href="#sN" x="514.8" y="593.4"/><use id="p3-q3-9b" href="#sN" x="529.3" y="593.4"/>
<use id="p3-q3-10a" href="#sN" x="507.5" y="615.3"/><use id="p3-q3-10b" href="#sN" x="522" y="615.3"/>
<use id="p3-q3-11a" href="#sN" x="500.3" y="637.2"/><use id="p3-q3-11b" href="#sN" x="514.8" y="637.2"/>
<use id="p3-q3-12a" href="#sN" x="493" y="659.1"/><use id="p3-q3-12b" href="#sN" x="507.5" y="659.1"/>
<use id="p3-q3-13a" href="#sN" x="485.8" y="681"/><use id="p3-q3-13b" href="#sN" x="500.3" y="681"/>
<use id="p3-q3-14a" href="#sN" x="478.5" y="702.9"/><use id="p3-q3-14b" href="#sN" x="493" y="702.9"/>
<use id="p3-q3-15a" href="#sN" x="471.3" y="724.9"/><use id="p3-q3-15b" href="#sN" x="485.8" y="724.9"/>
<use id="p3-q3-16a" href="#sN" x="464" y="746.9"/><use id="p3-q3-16b" href="#sN" x="478.5" y="746.9"/>
<use id="p3-q3-17a" href="#sN" x="456.8" y="768.9"/><use id="p3-q3-17b" href="#sN" x="471.3" y="768.9"/>
<use id="p3-q3-18a" href="#sN" x="449.5" y="790.9"/><use id="p3-q3-18b" href="#sN" x="464" y="790.9"/>
<use id="p3-q3-19a" href="#sN" x="442.3" y="812.9"/><use id="p3-q3-19b" href="#sN" x="456.8" y="812.9"/>
<use id="p3-q3-20a" href="#sN" x="435" y="834.9"/><use id="p3-q3-20b" href="#sN" x="449.5" y="834.9"/>
<use id="p3-q3-21a" href="#sN" x="427.8" y="856.9"/><use id="p3-q3-21b" href="#sN" x="442.3" y="856.9"/>
<use id="p3-q3-22a" href="#sN" x="420.5" y="878.9"/><use id="p3-q3-22b" href="#sN" x="435" y="878.9"/>
<use id="p3-q3-23a" href="#ic3" x="413.3" y="900.9"/><use id="p3-q3-23b" href="#sN" x="427.8" y="900.9"/>
<use id="p3-q4-0" href="#sN" x="609" y="394.3"/>
<use id="p3-q4-1a" href="#sR" x="602.3" y="416.6"/><use id="p3-q4-1b" href="#sN" x="616.7" y="416.6"/>
<use id="p3-q4-2a" href="#sN" x="602.3" y="438.9"/>
<use id="p3-q4-3a" href="#sN" x="595.1" y="461.2"/><use id="p3-q4-3b" href="#sN" x="609.6" y="461.2"/>
<use id="p3-q4-4a" href="#sN" x="587.8" y="483.5"/><use id="p3-q4-4b" href="#sN" x="602.3" y="483.5"/>
<use id="p3-q4-5a" href="#sN" x="580.6" y="505.8"/><use id="p3-q4-5b" href="#sN" x="595.1" y="505.8"/>
<use id="p3-q4-6a" href="#sN" x="573.3" y="527.7"/><use id="p3-q4-6b" href="#sN" x="587.8" y="527.7"/>
<use id="p3-q4-7a" href="#sN" x="566.1" y="549.6"/><use id="p3-q4-7b" href="#sN" x="580.6" y="549.6"/>
<use id="p3-q4-8a" href="#sN" x="558.8" y="571.5"/><use id="p3-q4-8b" href="#sN" x="573.3" y="571.5"/>
<use id="p3-q4-9a" href="#sN" x="551.6" y="593.4"/><use id="p3-q4-9b" href="#sN" x="566.1" y="593.4"/>
<use id="p3-q4-10a" href="#sN" x="544.3" y="615.3"/><use id="p3-q4-10b" href="#sN" x="558.8" y="615.3"/>
<use id="p3-q4-11a" href="#sN" x="537.1" y="637.2"/><use id="p3-q4-11b" href="#sN" x="551.6" y="637.2"/>
<use id="p3-q4-12a" href="#sN" x="529.8" y="659.1"/><use id="p3-q4-12b" href="#sN" x="544.3" y="659.1"/>
<use id="p3-q4-13a" href="#sN" x="522.6" y="681"/><use id="p3-q4-13b" href="#sN" x="537.1" y="681"/>
<use id="p3-q4-14a" href="#sN" x="515.3" y="702.9"/><use id="p3-q4-14b" href="#sN" x="529.8" y="702.9"/>
<use id="p3-q4-15a" href="#sN" x="508.1" y="724.9"/><use id="p3-q4-15b" href="#sN" x="522.6" y="724.9"/>
<use id="p3-q4-16a" href="#sN" x="500.8" y="746.9"/><use id="p3-q4-16b" href="#sN" x="515.3" y="746.9"/>
<use id="p3-q4-17a" href="#sN" x="493.6" y="768.9"/><use id="p3-q4-17b" href="#sN" x="508.1" y="768.9"/>
<use id="p3-q4-18a" href="#sN" x="486.3" y="790.9"/><use id="p3-q4-18b" href="#sN" x="500.8" y="790.9"/>
<use id="p3-q4-19a" href="#sN" x="479.1" y="812.9"/><use id="p3-q4-19b" href="#sN" x="493.6" y="812.9"/>
<use id="p3-q4-20a" href="#sN" x="471.8" y="834.9"/><use id="p3-q4-20b" href="#sN" x="486.3" y="834.9"/>
<use id="p3-q4-21a" href="#sN" x="464.6" y="856.9"/><use id="p3-q4-21b" href="#sN" x="479.1" y="856.9"/>
<use id="p3-q4-22a" href="#sN" x="457.3" y="878.9"/><use id="p3-q4-22b" href="#sN" x="471.8" y="878.9"/>
<use id="p3-q4-23a" href="#ic3" x="450.1" y="900.9"/><use id="p3-q4-23b" href="#sN" x="464.6" y="900.9"/>
</g>
<g id="p3-labels" class="t3">
<g class="m">
<text x="392.7" y="391">-124</text><text x="442" y="390">-59</text><text x="496" y="391">-1</text><text x="517" y="378">-1</text><text x="530.5" y="396">-1</text><text x="559.5" y="396">-1</text>
<text x="291.7" y="405">-472</text><text x="304.3" y="406.5">-114</text><text x="314.7" y="406.5">-112</text><text x="325.3" y="406.5">-15</text>
<text x="292.5" y="430">-115</text><text x="312.7" y="429.5">-131</text><text x="290.5" y="451">-118</text><text x="302.8" y="451">-110</text><text x="315.5" y="451">-87</text>
<text x="290" y="473.5">-87</text><text x="307.7" y="473.5">-87</text><text x="283.7" y="496">-84</text><text x="300.3" y="496">84</text><text x="275" y="518.5">-980</text><text x="295.3" y="518.5">-111</text>
<text x="382.7" y="413.5">-472</text><text x="429.3" y="401">-120</text><text x="343.3" y="430">-123</text><text x="371" y="430">-1</text>
<text x="336" y="451">-1</text><text x="351" y="451">1</text><text x="365.3" y="451">-4</text><text x="380" y="451">4</text>
<text x="329" y="473.5">-4</text><text x="344" y="473.5">4</text><text x="358" y="473.5">-10</text><text x="373" y="473.5">10</text>
<text x="322" y="496">-10</text><text x="337" y="496">10</text><text x="351" y="496">-12</text><text x="366" y="496">12</text><text x="358" y="518">-13</text>
<text x="466" y="421">-84</text><text x="452" y="428">-131</text><text x="402.7" y="449">-306</text><text x="417.7" y="451">-94</text><text x="427.7" y="451">-980</text><text x="438" y="441">-84</text>
<text x="469.3" y="451">-110</text><text x="489.3" y="451">110</text><text x="401.7" y="473.5">-978</text><text x="421" y="473.5">-123</text><text x="445" y="473.5">-110</text><text x="466" y="473.5">-246</text>
<text x="413" y="496">-110</text><text x="429" y="496">110</text><text x="447" y="496">-123</text><text x="466" y="496">-119</text><text x="466" y="518">-236</text>
<text x="609" y="430">-4</text>
</g>
<g class="r">
<text x="346.5" y="541.1">-14</text><text x="339.3" y="563">-15</text><text x="332.1" y="584.9">-17</text><text x="324.9" y="606.8">-18</text><text x="317.7" y="628.7">-23</text><text x="310.5" y="650.6">-24</text><text x="303.3" y="672.5">-32</text><text x="296.1" y="694.4">-33</text><text x="288.9" y="716.3">-35</text><text x="281.7" y="738.3">-38</text><text x="274.5" y="760.3">-40</text><text x="267.3" y="782.3">-41</text>
<text x="517.5" y="407.7">-3</text><text x="510.2" y="430">-4</text><text x="503" y="452.3">-10</text><text x="495.7" y="474.6">-12</text><text x="488.5" y="496.9">-13</text><text x="481.2" y="519.2">-14</text><text x="474" y="541.1">-15</text><text x="466.7" y="563">-17</text><text x="459.5" y="584.9">-18</text><text x="452.2" y="606.8">-23</text><text x="445" y="628.7">-24</text><text x="437.7" y="650.6">-32</text><text x="430.5" y="672.5">-33</text><text x="423.2" y="694.4">-34</text><text x="416" y="716.3">-35</text><text x="408.7" y="738.3">-38</text><text x="401.5" y="760.3">-39</text>
<text x="546.5" y="407.7">-3</text><text x="539.2" y="430">-4</text><text x="532" y="452.3">-10</text><text x="524.7" y="474.6">-12</text><text x="517.5" y="496.9">-13</text><text x="510.2" y="519.2">-14</text><text x="503" y="541.1">-15</text><text x="495.7" y="563">-17</text><text x="488.5" y="584.9">-18</text><text x="481.2" y="606.8">-23</text><text x="474" y="628.7">-24</text><text x="466.7" y="650.6">-32</text><text x="459.5" y="672.5">-33</text><text x="452.2" y="694.4">-34</text>
<text x="575.2" y="407.7">-3</text><text x="568" y="430">-4</text><text x="560.7" y="452.3">-10</text><text x="553.5" y="474.6">-12</text><text x="546.2" y="496.9">-13</text><text x="539" y="519.2">-14</text><text x="531.7" y="541.1">-15</text><text x="524.5" y="563">-17</text><text x="517.2" y="584.9">-18</text><text x="510" y="606.8">-23</text><text x="502.7" y="628.7">-24</text><text x="495.5" y="650.6">-32</text><text x="488.2" y="672.5">-33</text><text x="481" y="694.4">-35</text><text x="473.7" y="716.3">-38</text><text x="466.5" y="738.3">-40</text><text x="459.2" y="760.3">-41</text><text x="452" y="782.3">-44</text><text x="444.7" y="804.3">-45</text><text x="437.5" y="826.3">-46</text><text x="430.2" y="848.3">-47</text><text x="423" y="870.3">-49</text><text x="415.7" y="892.3">-50</text>
<text x="604.2" y="407.7">-3</text><text x="597.5" y="452.3">-10</text><text x="590.3" y="474.6">-12</text><text x="583" y="496.9">-13</text><text x="575.8" y="519.2">-14</text><text x="568.5" y="541.1">-15</text><text x="561.3" y="563">-17</text><text x="554" y="584.9">-18</text><text x="546.8" y="606.8">-23</text><text x="539.5" y="628.7">-24</text><text x="532.3" y="650.6">-32</text><text x="525" y="672.5">-33</text><text x="517.8" y="694.4">-35</text><text x="510.5" y="716.3">-38</text><text x="503.3" y="738.3">-40</text><text x="496" y="760.3">-41</text><text x="488.8" y="782.3">-44</text><text x="481.5" y="804.3">-45</text><text x="474.3" y="826.3">-46</text><text x="467" y="848.3">-47</text><text x="459.8" y="870.3">-49</text><text x="452.5" y="892.3">-50</text>
</g>
<text x="356.1" y="541.1">14</text><text x="348.9" y="563">15</text><text x="341.7" y="584.9">17</text><text x="334.5" y="606.8">18</text><text x="327.3" y="628.7">23</text><text x="320.1" y="650.6">24</text><text x="312.9" y="672.5">32</text><text x="305.7" y="694.4">33</text><text x="298.5" y="716.3">35</text><text x="291.3" y="738.3">38</text><text x="284.1" y="760.3">40</text><text x="276.9" y="782.3">41</text>
<text x="527.1" y="407.7">3</text><text x="519.8" y="430">4</text><text x="512.6" y="452.3">10</text><text x="505.3" y="474.6">12</text><text x="498.1" y="496.9">13</text><text x="490.8" y="519.2">14</text><text x="483.6" y="541.1">15</text><text x="476.3" y="563">17</text><text x="469.1" y="584.9">18</text><text x="461.8" y="606.8">23</text><text x="454.6" y="628.7">24</text><text x="447.3" y="650.6">32</text><text x="440.1" y="672.5">33</text><text x="432.8" y="694.4">34</text><text x="425.6" y="716.3">35</text><text x="418.3" y="738.3">38</text><text x="411.1" y="760.3">39</text>
<text x="556.1" y="407.7">3</text><text x="548.8" y="430">4</text><text x="541.6" y="452.3">10</text><text x="534.3" y="474.6">12</text><text x="527.1" y="496.9">13</text><text x="519.8" y="519.2">14</text><text x="512.6" y="541.1">15</text><text x="505.3" y="563">17</text><text x="498.1" y="584.9">18</text><text x="490.8" y="606.8">23</text><text x="483.6" y="628.7">24</text><text x="476.3" y="650.6">32</text><text x="469.1" y="672.5">33</text><text x="461.8" y="694.4">34</text>
<text x="584.8" y="407.7">3</text><text x="577.6" y="430">4</text><text x="570.3" y="452.3">10</text><text x="563.1" y="474.6">12</text><text x="555.8" y="496.9">13</text><text x="548.6" y="519.2">14</text><text x="541.3" y="541.1">15</text><text x="534.1" y="563">17</text><text x="526.8" y="584.9">18</text><text x="519.6" y="606.8">23</text><text x="512.3" y="628.7">24</text><text x="505.1" y="650.6">32</text><text x="497.8" y="672.5">33</text><text x="490.6" y="694.4">35</text><text x="483.3" y="716.3">38</text><text x="476.1" y="738.3">40</text><text x="468.8" y="760.3">41</text><text x="461.6" y="782.3">44</text><text x="454.3" y="804.3">45</text><text x="447.1" y="826.3">46</text><text x="439.8" y="848.3">47</text><text x="432.6" y="870.3">49</text><text x="425.3" y="892.3">50</text>
<text x="613.8" y="407.7">3</text><text x="607.1" y="452.3">10</text><text x="599.9" y="474.6">12</text><text x="592.6" y="496.9">13</text><text x="585.4" y="519.2">14</text><text x="578.1" y="541.1">15</text><text x="570.9" y="563">17</text><text x="563.6" y="584.9">18</text><text x="556.4" y="606.8">23</text><text x="549.1" y="628.7">24</text><text x="541.9" y="650.6">32</text><text x="534.6" y="672.5">33</text><text x="527.4" y="694.4">35</text><text x="520.1" y="716.3">38</text><text x="512.9" y="738.3">40</text><text x="505.6" y="760.3">41</text><text x="498.4" y="782.3">44</text><text x="491.1" y="804.3">45</text><text x="483.9" y="826.3">46</text><text x="476.6" y="848.3">47</text><text x="469.4" y="870.3">49</text><text x="462.1" y="892.3">50</text>
</g>
</svg>
